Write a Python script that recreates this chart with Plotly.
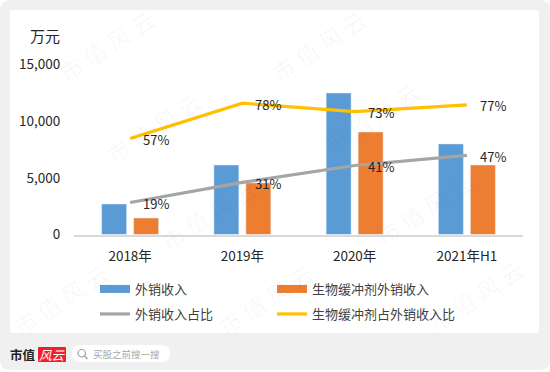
import plotly.graph_objects as go

categories = ["2018年", "2019年", "2020年", "2021年H1"]
export_revenue = [2690, 6130, 12480, 7990]
buffer_export_revenue = [1450, 4550, 9040, 6130]
export_share = [0.19, 0.31, 0.41, 0.47]
buffer_share = [0.57, 0.78, 0.73, 0.77]
share_labels_export = ["19%", "31%", "41%", "47%"]
share_labels_buffer = ["57%", "78%", "73%", "77%"]
y_ticks = [0, 5000, 10000, 15000]

W, H = 550, 372
FONT = "Noto Sans CJK SC, Noto Sans, sans-serif"
TEXT = "#262626"


def X(px):
    return px / W


def Y(py):
    return 1 - py / H


def rounded(x0, y0, x1, y1, r):
    p = [
        f"M {X(x0 + r)} {Y(y0)}", f"L {X(x1 - r)} {Y(y0)}",
        f"Q {X(x1)} {Y(y0)} {X(x1)} {Y(y0 + r)}", f"L {X(x1)} {Y(y1 - r)}",
        f"Q {X(x1)} {Y(y1)} {X(x1 - r)} {Y(y1)}", f"L {X(x0 + r)} {Y(y1)}",
        f"Q {X(x0)} {Y(y1)} {X(x0)} {Y(y1 - r)}", f"L {X(x0)} {Y(y0 + r)}",
        f"Q {X(x0)} {Y(y0)} {X(x0 + r)} {Y(y0)}", "Z",
    ]
    return " ".join(p)


def box(x0, y0, x1, y1, r, color):
    return dict(type="path", xref="paper", yref="paper", path=rounded(x0, y0, x1, y1, r),
                fillcolor=color, line=dict(width=0), layer="below")


def page_text(px, py, text, size, color, angle=0):
    return dict(x=X(px), y=Y(py), xref="paper", yref="paper", text=text, showarrow=False,
                xanchor="center", yanchor="middle", textangle=angle,
                font=dict(family=FONT, size=size, color=color))


BLUE, ORANGE, GREY, GOLD = "#5B9BD5", "#ED7D31", "#A5A5A5", "#FFC000"

fig = go.Figure()
fig.add_bar(x=categories, y=export_revenue, name="外销收入", marker_color=BLUE, showlegend=False)
fig.add_bar(x=categories, y=buffer_export_revenue, name="生物缓冲剂外销收入", marker_color=ORANGE, showlegend=False)
# wide legend keys for the two bar series
fig.add_scatter(x=[None], y=[None], name="外销收入", mode="lines", line=dict(color=BLUE, width=8), legend="legend")
fig.add_scatter(x=[None], y=[None], name="生物缓冲剂外销收入", mode="lines", line=dict(color=ORANGE, width=8), legend="legend3")
fig.add_scatter(x=categories, y=export_share, name="外销收入占比", mode="lines", yaxis="y2",
                line=dict(color=GREY, width=3.2), legend="legend2")
fig.add_scatter(x=categories, y=buffer_share, name="生物缓冲剂占外销收入比", mode="lines", yaxis="y2",
                line=dict(color=GOLD, width=3.2), legend="legend4")

annotations = []
for labels, vals in ((share_labels_export, export_share), (share_labels_buffer, buffer_share)):
    for c, lab, v in zip(categories, labels, vals):
        annotations.append(dict(x=c, y=v, xref="x", yref="y2", text=lab, showarrow=False,
                                xanchor="left", yanchor="middle", xshift=11, yshift=-1,
                                font=dict(family=FONT, size=13, color=TEXT)))

annotations.append(page_text(45, 35, "万元", 15, TEXT))

# footer brand
annotations.append(page_text(23, 354, "<b>市值</b>", 12.5, "#222222"))
annotations.append(page_text(52, 354, "<i>风云</i>", 12.5, "#ffffff"))
annotations.append(page_text(126, 354, "买股之前搜一搜", 9.5, "#a8a8a8"))

# watermark
for wx, wy in [(106, 46), (153, 128), (208, 215), (265, 300), (318, 46), (371, 118), (423, 210),
               (475, 296), (60, 300)]:
    annotations.append(page_text(wx, wy, "市 值 风 云", 23, "rgba(0,0,0,0.035)", angle=-33))

shapes = [
    box(0, 0, 550, 370, 11, "#f0f0f0"),
    box(10, 10, 539, 333, 2, "#ffffff"),
    box(38, 347, 66, 362, 1, "#f01f2b"),
    box(72, 345, 170, 362, 8.5, "#ffffff"),
    dict(type="circle", xref="paper", yref="paper", x0=X(78), x1=X(85.5), y0=Y(357), y1=Y(349.5),
         line=dict(color="#a0a0a0", width=1.2)),
    dict(type="line", xref="paper", yref="paper", x0=X(84.5), x1=X(87.5), y0=Y(356), y1=Y(359),
         line=dict(color="#a0a0a0", width=1.2)),
]

legend_common = dict(orientation="h", xanchor="left", yanchor="middle", itemwidth=30,
                     font=dict(family=FONT, size=13, color="#404040"),
                     bgcolor="rgba(0,0,0,0)", itemclick=False, itemdoubleclick=False)

fig.update_layout(
    width=W, height=H, margin=dict(l=0, r=0, t=0, b=0), paper_bgcolor="#ffffff", plot_bgcolor="rgba(0,0,0,0)",
    barmode="group", bargap=0.43, bargroupgap=0.22, showlegend=True,
    font=dict(family=FONT, size=13.5, color=TEXT),
    xaxis=dict(domain=[X(74), X(523)], type="category", showgrid=False, showline=True, linecolor="#d9d9d9",
               linewidth=1.5, ticks="outside", ticklen=9, tickcolor="rgba(0,0,0,0)",
               tickfont=dict(family=FONT, size=13.5, color=TEXT), automargin=False),
    yaxis=dict(domain=[Y(234.5), Y(64.5)], range=[0, 15000], tickvals=y_ticks, tickformat=",", showgrid=False,
               zeroline=False, showline=False, ticks="outside", ticklen=10, tickcolor="rgba(0,0,0,0)",
               tickfont=dict(family=FONT, size=13.5, color=TEXT), automargin=False),
    yaxis2=dict(overlaying="y", range=[0, 1.01], visible=False),
    legend=dict(x=X(95), y=Y(289), **legend_common),
    legend2=dict(x=X(95), y=Y(314), **legend_common),
    legend3=dict(x=X(272), y=Y(289), **legend_common),
    legend4=dict(x=X(272), y=Y(314), **legend_common),
    annotations=annotations,
    shapes=shapes,
)

fig.write_html("out.html", config=dict(displayModeBar=False),
               post_script="document.body.style.margin='0';document.body.style.overflow='hidden';")
